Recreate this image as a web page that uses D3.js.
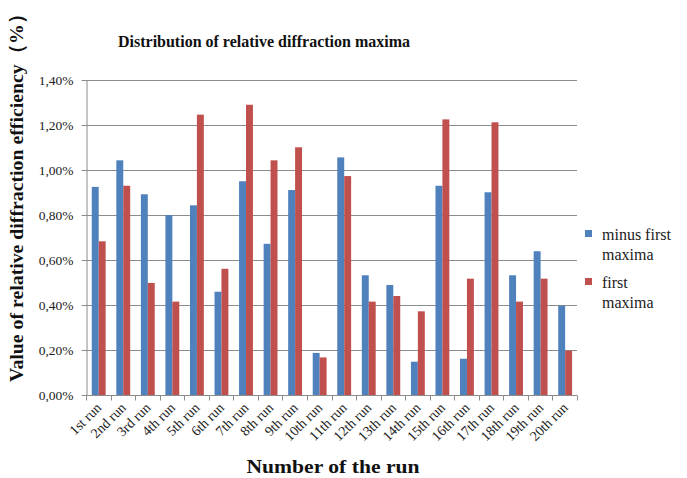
<!DOCTYPE html>
<html>
<head>
<meta charset="utf-8">
<script src="https://cdn.jsdelivr.net/npm/d3@7"></script>
<style>
  html, body { margin: 0; padding: 0; background: #ffffff; }
  svg { display: block; }
</style>
</head>
<body>
<div id="chart"></div>
<script>
// ---- data ----
const categories = ["1st run","2nd run","3rd run","4th run","5th run","6th run","7th run","8th run","9th run","10th run",
                    "11th run","12th run","13th run","14th run","15th run","16th run","17th run","18th run","19th run","20th run"];
const minusFirst = [0.925,1.043,0.892,0.800,0.843,0.459,0.950,0.672,0.911,0.187,
                    1.056,0.532,0.489,0.148,0.930,0.161,0.901,0.532,0.639,0.397];
const firstMax   = [0.683,0.930,0.498,0.415,1.246,0.561,1.290,1.043,1.101,0.167,
                    0.973,0.415,0.440,0.372,1.225,0.517,1.212,0.415,0.517,0.197];
const seriesNames = ["minus first maxima","first maxima"];
const legendLines = [["minus first","maxima"],["first","maxima"]];
const yTicks = [0,0.2,0.4,0.6,0.8,1.0,1.2,1.4];
const colors = ["#4F81BD","#C0504D"];

const FONT = "'Liberation Serif', 'DejaVu Serif', serif";
const W = 687, H = 478;
const m = {left: 86, right: 110, top: 80, bottom: 83};

const svg = d3.select("#chart").append("svg").attr("width", W).attr("height", H)
  .attr("font-family", FONT);

const x = d3.scaleBand().domain(categories).range([m.left, W - m.right]).padding(0);
const xs = d3.scaleBand().domain([0,1]).range([x.bandwidth()*0.235, x.bandwidth()*0.80]).padding(0);
const y = d3.scaleLinear().domain([0,1.4]).range([H - m.bottom, m.top]);

const grid = "#8c8c8c";

// gridlines
svg.append("g").selectAll("line").data(yTicks.filter(d => d > 0)).join("line")
  .attr("x1", m.left).attr("x2", W - m.right)
  .attr("y1", d => Math.round(y(d)) + 0.5).attr("y2", d => Math.round(y(d)) + 0.5)
  .attr("stroke", grid).attr("stroke-width", 1);

// bars
const data = categories.map((c,i) => ({c, v:[minusFirst[i], firstMax[i]]}));
const g = svg.append("g").selectAll("g").data(data).join("g")
  .attr("transform", d => `translate(${x(d.c)},0)`);
g.selectAll("rect").data(d => d.v.map((v,k) => ({v,k}))).join("rect")
  .attr("x", d => xs(d.k)).attr("width", xs.bandwidth())
  .attr("y", d => y(d.v)).attr("height", d => y(0) - y(d.v))
  .attr("fill", d => colors[d.k]);

// y axis
const fmt = d3.format(".2f");
const yAxis = d3.axisLeft(y).tickValues(yTicks).tickSize(5).tickSizeOuter(0)
  .tickFormat(d => fmt(d).replace(".", ",") + "%");
const yg = svg.append("g").attr("transform", `translate(${m.left + 0.5},0)`).call(yAxis)
  .attr("font-family", FONT);
yg.select(".domain").attr("stroke", grid);
yg.selectAll(".tick line").attr("stroke", grid);
yg.selectAll(".tick text").attr("x", -13).attr("font-size", 13.5).attr("fill", "#222")
  .attr("font-family", FONT);

// x axis with ticks at category boundaries
const xg = svg.append("g").attr("transform", `translate(0,${Math.round(y(0)) + 0.5})`);
xg.append("line").attr("x1", m.left).attr("x2", W - m.right).attr("stroke", grid);
const bounds = categories.map(c => x(c)).concat([x(categories[categories.length-1]) + x.bandwidth()]);
xg.selectAll("line.t").data(bounds).join("line").attr("class","t")
  .attr("x1", d => Math.round(d) + 0.5).attr("x2", d => Math.round(d) + 0.5)
  .attr("y1", 0).attr("y2", 5).attr("stroke", grid);
xg.selectAll("text").data(categories).join("text")
  .attr("transform", d => `translate(${x(d) + x.bandwidth()/2 + 4},${13}) rotate(-45)`)
  .attr("text-anchor", "end").attr("font-size", 14).attr("fill", "#222")
  .attr("font-family", FONT)
  .text(d => d);

// title
svg.append("text").attr("x", 264).attr("y", 47).attr("text-anchor", "middle")
  .attr("font-size", 16.5).attr("font-weight", "bold").attr("fill", "#111")
  .attr("textLength", 292).attr("lengthAdjust", "spacingAndGlyphs")
  .text("Distribution of relative diffraction maxima");

// axis titles
svg.append("text").attr("x", 333).attr("y", 473).attr("text-anchor", "middle")
  .attr("font-size", 19).attr("font-weight", "bold").attr("fill", "#111")
  .attr("textLength", 173).attr("lengthAdjust", "spacingAndGlyphs")
  .text("Number of the run");
svg.append("text").attr("transform", "translate(23,193) rotate(-90)").attr("text-anchor", "middle")
  .attr("font-size", 19.5).attr("font-weight", "bold").attr("fill", "#111")
  .attr("textLength", 378).attr("lengthAdjust", "spacingAndGlyphs")
  .text("Value of relative diffraction efficiency（%）");

// legend
const lgY = [240, 288];
const lg = svg.append("g").selectAll("g").data(seriesNames).join("g");
lg.append("rect").attr("x", 585).attr("y", (d,i) => lgY[i] - 10).attr("width", 7).attr("height", 7)
  .attr("fill", (d,i) => colors[i]);
lg.each(function(d,i){
  const t = d3.select(this).append("text").attr("font-size", 16).attr("fill", "#222")
    .attr("font-family", FONT);
  legendLines[i].forEach((ln, j) => {
    t.append("tspan").attr("x", 602).attr("y", lgY[i] + j*20).text(ln);
  });
});
</script>
</body>
</html>
